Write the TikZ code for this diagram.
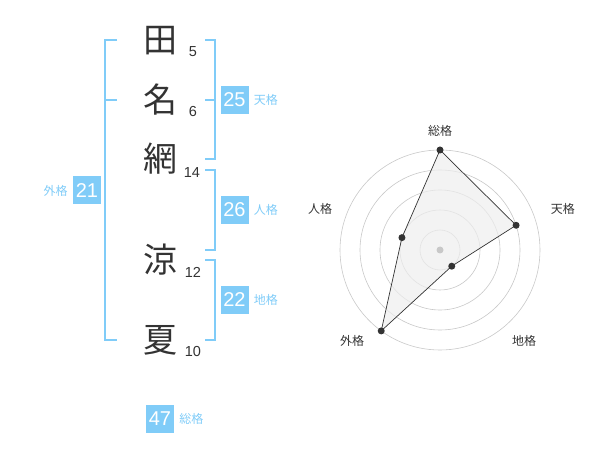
\documentclass[tikz,border=0pt]{standalone}
\usepackage{fontspec}
\setmainfont{Liberation Sans}
\newfontfamily\jpfont{Noto Sans CJK JP}
\usetikzlibrary{positioning}
\definecolor{kakublue}{RGB}{128,204,248}
\definecolor{kakudark}{RGB}{51,51,51}
\definecolor{ringgray}{RGB}{200,200,200}
\definecolor{shapegray}{RGB}{238,238,238}
\tikzset{kanji/.style = {inner sep=0pt, text=kakudark, font=\jpfont\fontsize{34}{34}\selectfont}}
\tikzset{strokes/.style = {inner sep=0pt, text=kakudark, font=\fontsize{14.5}{14.5}\selectfont}}
\tikzset{kakubox/.style = {fill=kakublue, text=white, minimum size=28pt, inner sep=0pt, font=\fontsize{20}{20}\selectfont}}
\tikzset{kakulabel/.style = {inner sep=0pt, text=kakublue, font=\jpfont\fontsize{12}{12}\selectfont}}
\tikzset{bracket/.style = {draw=kakublue, line width=1.8pt}}
\tikzset{axislabel/.style = {inner sep=0pt, text=kakudark, font=\jpfont\fontsize{12}{12}\selectfont}}

\begin{document}
\begin{tikzpicture}[x=1pt, y=-1pt]
\useasboundingbox (0,0) rectangle (600,470);
% name characters and stroke counts
\node[kanji] (c1) at (160,41) {田};
\node[kanji] (c2) at (160,100) {名};
\node[kanji] (c3) at (160,159) {網};
\node[kanji] (c4) at (160,260) {涼};
\node[kanji] (c5) at (160,340) {夏};
\node[strokes] (n1) at (193,52) {5};
\node[strokes] (n2) at (193,112) {6};
\node[strokes] (n3) at (192,173) {14};
\node[strokes] (n4) at (193,272) {12};
\node[strokes] (n5) at (193,352) {10};
% brackets
\draw[bracket] (117,40) -- (105,40) -- (105,340) -- (117,340);
\draw[bracket] (105,100) -- (117,100);
\draw[bracket] (205,40) -- (215,40) -- (215,159) -- (205,159);
\draw[bracket] (205,100) -- (215,100);
\draw[bracket] (205,170) -- (215,170) -- (215,250) -- (205,250);
\draw[bracket] (205,260) -- (215,260) -- (215,340) -- (205,340);
% totals
\node[kakubox] (ten) at (234.5,100) {25};
\node[kakulabel, right=5pt of ten] (tenlabel) {天格};
\node[kakubox] (jin) at (234.5,210) {26};
\node[kakulabel, right=5pt of jin] (jinlabel) {人格};
\node[kakubox] (chi) at (234.5,300) {22};
\node[kakulabel, right=5pt of chi] (chilabel) {地格};
\node[kakubox] (gai) at (87,190.5) {21};
\node[kakulabel, left=5pt of gai] (gailabel) {外格};
\node[kakubox] (sou) at (160,419) {47};
\node[kakulabel, right=5pt of sou] (soulabel) {総格};
% radar chart
\begin{scope}[shift={(440,250)}]
\foreach \r in {20,40,...,100}
  \draw[ringgray, line width=0.6pt] (0,0) circle (\r pt);
\coordinate (p1) at (90:100pt);
\coordinate (p2) at (18:80pt);
\coordinate (p3) at (-54:20pt);
\coordinate (p4) at (-126:100pt);
\coordinate (p5) at (162:40pt);
\fill[shapegray, fill opacity=0.7] (p1) -- (p2) -- (p3) -- (p4) -- (p5) -- cycle;
\draw[kakudark, line width=0.7pt] (p1) -- (p2) -- (p3) -- (p4) -- (p5) -- cycle;
\fill[ringgray] (0,0) circle (3.5pt);
\foreach \i in {1,...,5}
  \fill[kakudark] (p\i) circle (3.5pt);
\node[axislabel] (a1) at (90:119pt) {総格};
\node[axislabel] (a2) at (18.4:129.6pt) {天格};
\node[axislabel] (a3) at (-47.3:124pt) {地格};
\node[axislabel] (a4) at (-134:126.6pt) {外格};
\node[axislabel] (a5) at (161:126.8pt) {人格};
\end{scope}
\end{tikzpicture}
\end{document}
